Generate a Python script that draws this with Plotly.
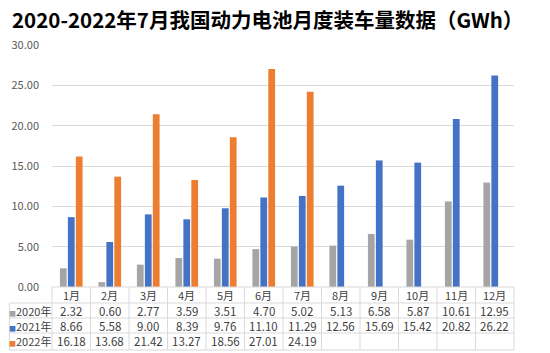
import plotly.graph_objects as go

months = ["1月", "2月", "3月", "4月", "5月", "6月", "7月", "8月", "9月", "10月", "11月", "12月"]
series_names = ["2020年", "2021年", "2022年"]
v2020 = [2.32, 0.60, 2.77, 3.59, 3.51, 4.70, 5.02, 5.13, 6.58, 5.87, 10.61, 12.95]
v2021 = [8.66, 5.58, 9.00, 8.39, 9.76, 11.10, 11.29, 12.56, 15.69, 15.42, 20.82, 26.22]
v2022 = [16.18, 13.68, 21.42, 13.27, 18.56, 27.01, 24.19, None, None, None, None, None]
colors = ["#A5A5A5", "#4472C4", "#ED7D31"]
title_text = "2020-2022年7月我国动力电池月度装车量数据（GWh）"

FONT = "Noto Sans CJK SC"
TXT = "#404040"
GRID = "#D9D9D9"

fig = go.Figure()
for name, vals, c in zip(series_names, [v2020, v2021, v2022], colors):
    fig.add_trace(go.Bar(x=months, y=vals, name=name, marker_color=c, marker_line_width=0))

W, H = 550, 353
L, R, T, B = 48, 36, 45, 66
pw, ph = W - L - R, H - T - B

def py(p):
    return (H - B - p) / ph

def px(p):
    return (p - L) / pw

row_lines = [py(303), py(318), py(333), py(350)]
text_rows = [py(311), py(326), py(341)]
header_y = py(295)
left_x = px(5)

shapes = []
shapes.append(dict(type="line", xref="paper", yref="paper", x0=0, x1=1, y0=0, y1=0,
                   line=dict(color=GRID, width=1)))
for yl in row_lines:
    shapes.append(dict(type="line", xref="paper", yref="paper", x0=left_x, x1=1, y0=yl, y1=yl,
                       line=dict(color=GRID, width=1)))
for i in range(len(months) + 1):
    xv = i / len(months)
    shapes.append(dict(type="line", xref="paper", yref="paper", x0=xv, x1=xv, y0=0, y1=row_lines[-1],
                       line=dict(color=GRID, width=1)))
shapes.append(dict(type="line", xref="paper", yref="paper", x0=left_x, x1=left_x, y0=row_lines[0], y1=row_lines[-1],
                   line=dict(color=GRID, width=1)))

annotations = []
for m in months:
    annotations.append(dict(x=m, xref="x", y=header_y, yref="paper", text=m, showarrow=False,
                            font=dict(family=FONT, size=11, color=TXT), xanchor="center", yanchor="middle"))
for r, (name, vals, c) in enumerate(zip(series_names, [v2020, v2021, v2022], colors)):
    annotations.append(dict(x=px(26), xref="paper", y=text_rows[r], yref="paper",
                            text=f'<span style="color:{c};font-size:7px">■</span>{name}', showarrow=False,
                            font=dict(family=FONT, size=11, color=TXT), xanchor="center", yanchor="middle"))
    for m, v in zip(months, vals):
        if v is None:
            continue
        annotations.append(dict(x=m, xref="x", y=text_rows[r], yref="paper", text=f"{v:.2f}", showarrow=False,
                                font=dict(family=FONT, size=11.5, color=TXT), xanchor="center", yanchor="middle"))

fig.update_layout(
    width=W, height=H,
    margin=dict(l=L, r=R, t=T, b=B),
    paper_bgcolor="white", plot_bgcolor="white",
    showlegend=False,
    barmode="group", bargap=0.38, bargroupgap=0.15,
    title=dict(text=f"<b>{title_text}</b>", x=12 / W, xanchor="left", xref="container",
               y=1 - 21 / H, yanchor="middle", yref="container",
               font=dict(family=FONT, size=20.5, color="#000000")),
    xaxis=dict(showticklabels=False, showgrid=False, zeroline=False, showline=False, ticks=""),
    yaxis=dict(range=[0, 30], dtick=5, tickformat=".2f", showgrid=True, gridcolor=GRID, gridwidth=1,
               zeroline=False, showline=False, ticks="", ticklabelstandoff=12,
               tickfont=dict(family=FONT, size=11, color="#595959")),
    shapes=shapes,
    annotations=annotations,
)

fig.write_html("out.html")
